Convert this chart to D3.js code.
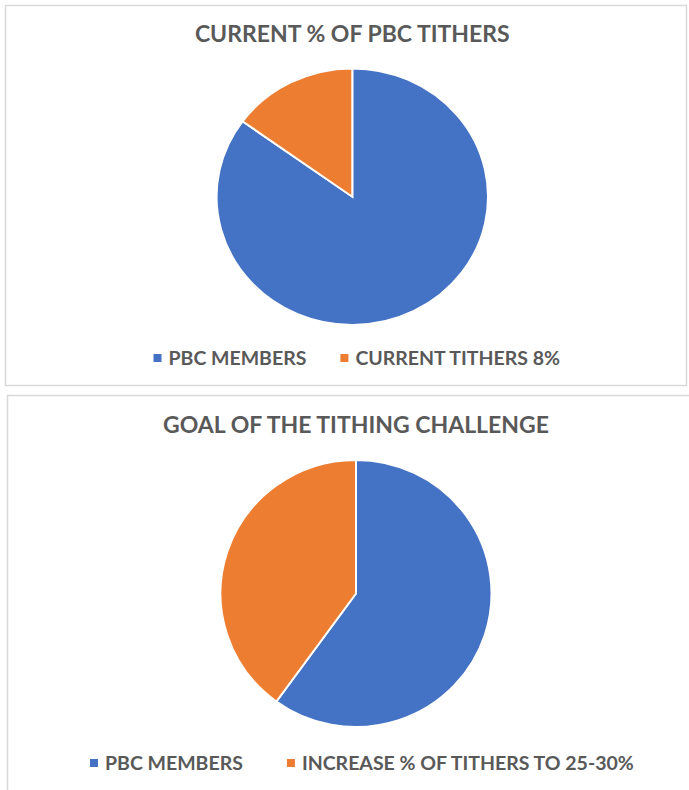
<!DOCTYPE html>
<html>
<head>
<meta charset="UTF-8">
<script src="https://d3js.org/d3.v7.min.js"></script>
<style>
  body { margin: 0; background: #fff; }
  text { font-family: Lato, "Open Sans", sans-serif; font-weight: bold; fill: #595959; }
</style>
</head>
<body>
<script>
  var width = 689, height = 790;

  // data
  var colors = ["#4472C4", "#ED7D31"];
  var topTitle = "CURRENT % OF PBC TITHERS";
  var topLabels = ["PBC MEMBERS", "CURRENT TITHERS 8%"];
  var topValues = [85, 15];
  var bottomTitle = "GOAL OF THE TITHING CHALLENGE";
  var bottomLabels = ["PBC MEMBERS", "INCREASE % OF TITHERS TO 25-30%"];
  var bottomValues = [60, 40];

  var svg = d3.select("body").append("svg")
    .attr("width", width)
    .attr("height", height);

  // layout of the two chart boxes (the screenshot is slightly stretched, hence rx / ry)
  var charts = [
    { title: topTitle, labels: topLabels, values: topValues,
      box: [5.5, 5.5, 681, 380], cx: 352.3, cy: 196.7, rx: 135.7, ry: 128.3,
      titleY: 42, legendX: 153.5, legendY: 358, itemGap: 34 },
    { title: bottomTitle, labels: bottomLabels, values: bottomValues,
      box: [7.5, 395.5, 690, 410], cx: 356, cy: 593.5, rx: 135.5, ry: 133.5,
      titleY: 433, legendX: 90, legendY: 763, itemGap: 44 }
  ];

  var pie = d3.pie().sort(null).value(function (d) { return d; });

  charts.forEach(function (c) {
    var g = svg.append("g");

    // chart border
    g.append("rect")
      .attr("x", c.box[0]).attr("y", c.box[1])
      .attr("width", c.box[2]).attr("height", c.box[3])
      .attr("fill", "#fff")
      .attr("stroke", "#d9d9d9")
      .attr("stroke-width", 1.5);

    g.append("text")
      .attr("x", c.cx)
      .attr("y", c.titleY)
      .attr("text-anchor", "middle")
      .style("font-size", "23px")
      .text(c.title);

    var arc = d3.arc().innerRadius(0).outerRadius(c.ry);

    var pg = g.append("g")
      .attr("transform", "translate(" + c.cx + "," + c.cy + ") scale(" + (c.rx / c.ry) + ",1)");

    pg.selectAll("path")
      .data(pie(c.values))
      .enter()
      .append("path")
      .attr("d", arc)
      .attr("fill", function (d, i) { return colors[i]; })
      .attr("stroke", "#fff")
      .attr("stroke-width", 2)
      .attr("vector-effect", "non-scaling-stroke");

    // legend
    var x = c.legendX;
    c.labels.forEach(function (lab, i) {
      g.append("rect")
        .attr("x", x).attr("y", c.legendY - 4)
        .attr("width", 8).attr("height", 8)
        .attr("fill", colors[i]);
      var t = g.append("text")
        .attr("x", x + 15)
        .attr("y", c.legendY)
        .attr("dy", "0.36em")
        .style("font-size", "19.5px")
        .text(lab);
      x += 15 + t.node().getComputedTextLength() + c.itemGap;
    });
  });
</script>
</body>
</html>
